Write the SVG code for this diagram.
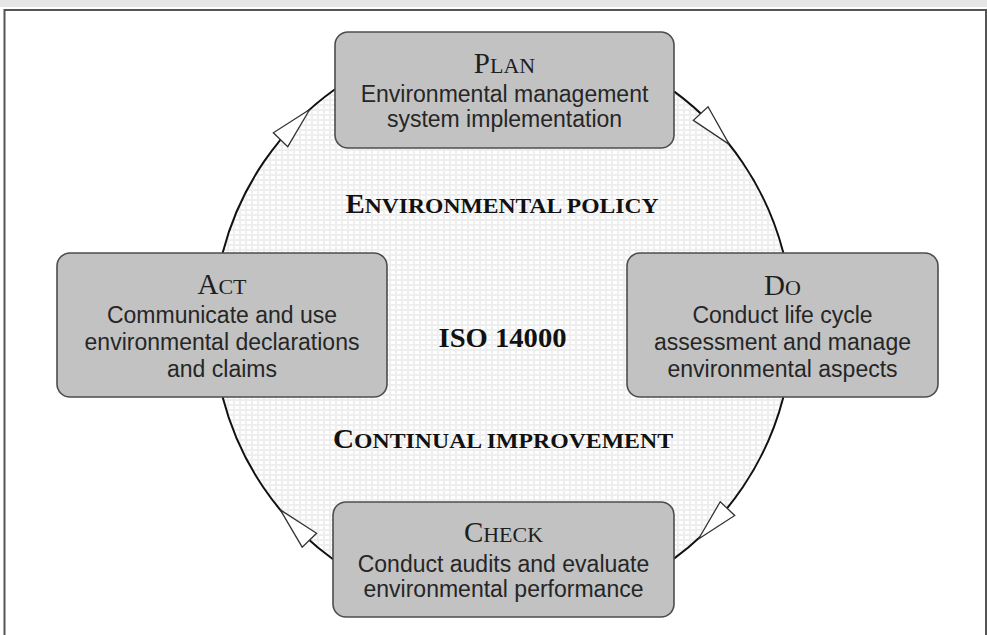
<svg xmlns="http://www.w3.org/2000/svg" xmlns:xlink="http://www.w3.org/1999/xlink" width="987" height="635" viewBox="0 0 987 635">
  <defs>
    <!-- faint grid texture inside the cycle -->
    <pattern id="grid" width="6" height="5" patternUnits="userSpaceOnUse">
      <rect x="0" y="0" width="6" height="5" fill="#ffffff"/>
      <rect x="0.5" y="0.5" width="5" height="4" fill="none" stroke="#eeeeee" stroke-width="1"/>
    </pattern>
    <!-- open arrowhead, tip at the origin, pointing along +x -->
    <path id="ah" d="M0,0 L-42,-10 L-42,10 Z"/>
  </defs>
  <style>
    .box { fill: #c2c2c2; stroke: #4d4d4d; stroke-width: 1.6; }
    .title { font-family: "Liberation Serif", "Times New Roman", serif; fill: #1e1e1e; text-anchor: middle; }
    .cap { font-size: 29px; }
    .sc { font-size: 22px; }
    .body { font-family: "Liberation Sans", Arial, sans-serif; font-size: 23px; fill: #262626; text-anchor: middle; }
    .label { font-family: "Liberation Serif", "Times New Roman", serif; font-weight: bold; fill: #111; text-anchor: middle; }
    .arc { fill: none; stroke: #111; stroke-width: 2; }
    .head { fill: #ffffff; stroke: #333; stroke-width: 1.3; stroke-linejoin: miter; }
  </style>

  <!-- page frame -->
  <rect x="0" y="0" width="987" height="7" fill="#e6e6e6"/>
  <path d="M4.5,640 V10 H986 V640" fill="none" stroke="#555" stroke-width="2"/>

  <!-- cycle background -->
  <circle cx="503" cy="325" r="289.5" fill="url(#grid)"/>

  <!-- centre labels -->
  <text class="label" x="502" y="213" textLength="313" lengthAdjust="spacingAndGlyphs"><tspan font-size="27">E</tspan><tspan font-size="22">NVIRONMENTAL POLICY</tspan></text>
  <text class="label" x="502.5" y="347" font-size="27" textLength="128" lengthAdjust="spacingAndGlyphs">ISO 14000</text>
  <text class="label" x="503" y="448" textLength="340" lengthAdjust="spacingAndGlyphs"><tspan font-size="27">C</tspan><tspan font-size="22">ONTINUAL IMPROVEMENT</tspan></text>

  <!-- connectors: clockwise arcs Act -> Plan -> Do -> Check -> Act -->
  <g id="connectors">
    <path class="arc" d="M222.6,253 A289.5,289.5 0 0 1 335,89.2"/>
    <path class="arc" d="M674,91.4 A289.5,289.5 0 0 1 783.4,253"/>
    <path class="arc" d="M783.4,397 A289.5,289.5 0 0 1 674,558.6"/>
    <path class="arc" d="M333,559.3 A289.5,289.5 0 0 1 222.6,397"/>
    <use xlink:href="#ah" href="#ah" class="head" transform="translate(309.7,109.5) rotate(313.95)"/>
    <use xlink:href="#ah" href="#ah" class="head" transform="translate(729.2,144.4) rotate(47.25)"/>
    <use xlink:href="#ah" href="#ah" class="head" transform="translate(698.5,539) rotate(133.65)"/>
    <use xlink:href="#ah" href="#ah" class="head" transform="translate(280.3,509.9) rotate(226.15)"/>
  </g>

  <g id="plan">
    <rect class="box" x="335" y="32" width="339" height="116" rx="13"/>
    <text class="title" x="504.5" y="73"><tspan class="cap">P</tspan><tspan class="sc">LAN</tspan></text>
    <text class="body" x="504.5" y="102">Environmental management</text>
    <text class="body" x="504.5" y="127">system implementation</text>
  </g>

  <g id="do">
    <rect class="box" x="627" y="253" width="311" height="144" rx="13"/>
    <text class="title" x="782.5" y="295"><tspan class="cap">D</tspan><tspan class="sc">O</tspan></text>
    <text class="body" x="782.5" y="323">Conduct life cycle</text>
    <text class="body" x="782.5" y="350">assessment and manage</text>
    <text class="body" x="782.5" y="377">environmental aspects</text>
  </g>

  <g id="check">
    <rect class="box" x="333" y="502" width="341" height="115" rx="13"/>
    <text class="title" x="503.5" y="542"><tspan class="cap">C</tspan><tspan class="sc">HECK</tspan></text>
    <text class="body" x="503.5" y="572">Conduct audits and evaluate</text>
    <text class="body" x="503.5" y="597">environmental performance</text>
  </g>

  <g id="act">
    <rect class="box" x="57" y="253" width="330" height="144" rx="13"/>
    <text class="title" x="222" y="294"><tspan class="cap">A</tspan><tspan class="sc">CT</tspan></text>
    <text class="body" x="222" y="323">Communicate and use</text>
    <text class="body" x="222" y="350">environmental declarations</text>
    <text class="body" x="222" y="377">and claims</text>
  </g>
</svg>
